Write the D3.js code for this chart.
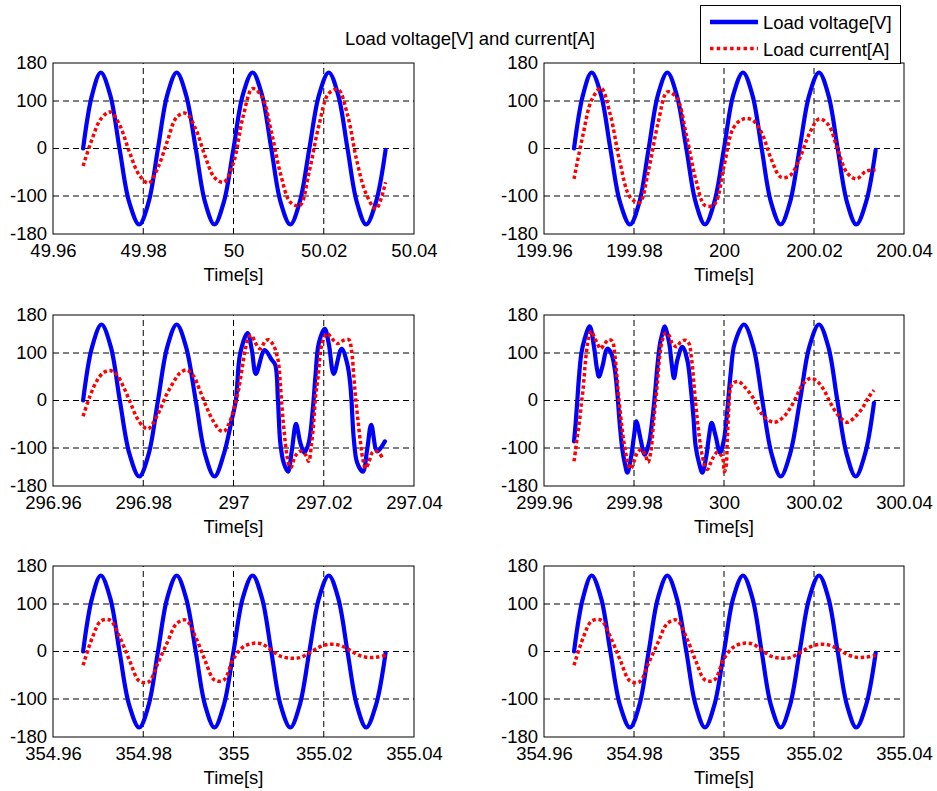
<!DOCTYPE html>
<html>
<head>
<meta charset="utf-8">
<script src="https://cdn.jsdelivr.net/npm/d3@7"></script>
<style>
  body { margin: 0; background: #fff; }
  text { font-family: "Liberation Sans", Arial, Helvetica, sans-serif; }
</style>
</head>
<body>
<svg id="fig" width="937" height="791"></svg>
<script>
// ---------------------------------------------------------------
// Measured load voltage [V] and load current [A] in six 80 ms windows.
// Sample instants are given in ms after the left limit of each window.
// ---------------------------------------------------------------

// Instants used for the steady-state windows (eighth-cycle samples)
const steadyMs = [6.67, 8.67, 10.59, 12.67, 14.74, 16.89, 19.11, 21.19, 23.26, 25.33, 27.41,
  29.48, 31.63, 33.70, 35.78, 37.85, 40.00, 42.07, 44.22, 46.30, 48.37, 50.44, 52.59, 54.67,
  56.81, 58.96, 61.11, 63.19, 65.26, 67.33, 69.41, 71.56, 73.70];

// Load voltage in the steady windows (t = 50 s, 200 s, 355 s)
const steadyVolt = [0, 113, 160, 113, 0, -113, -160, -113, 0, 113, 160, 113, 0, -113, -160, -113,
  0, 113, 160, 113, 0, -113, -160, -113, 0, 113, 160, 113, 0, -113, -160, -113, -3];

// Load current, window 49.96 - 50.04 s
const curr50 = [-37, 20, 62, 77, 50, -6, -56, -73, -40, 15, 66, 74, 41, -16, -61, -71,
  -30, 65, 126, 109, 36, -54, -113, -120, -47, 50, 116, 124, 71, -26, -96, -127, -71];

// Load current, window 199.96 - 200.04 s
const curr200 = [-64, 29, 102, 127, 71, -30, -102, -114, -44, 53, 119, 107, 29, -64, -120, -118,
  -37, 43, 62, 60, 33, -21, -60, -57, -21, 31, 62, 50, -2, -51, -64, -48, -45];

// Load current, window 354.96 - 355.04 s
const curr355 = [-29, 28, 64, 66, 31, -17, -62, -64, -24, 19, 59, 66, 30, -19, -60, -60,
  -15, 9, 17, 16, 3, -10, -14, -13, -3, 9, 15, 14, 6, -6, -12, -12, -8];

// Window 296.96 - 297.04 s: [ms, value]
const volt297 = [[6.67, 0], [8.67, 113], [10.74, 160], [12.81, 113], [14.81, 0], [16.96, -113],
  [19.11, -160], [21.19, -113], [23.26, 0], [25.33, 113], [27.41, 160], [29.48, 113], [31.63, 0],
  [33.70, -113], [35.78, -160], [37.85, -113], [39.63, -40], [40.52, 0], [41.48, 99], [43.11, 142],
  [44.07, 106], [44.96, 56], [46.89, 106], [48.52, 85], [49.26, 75], [49.85, 1], [50.37, -89],
  [51.11, -131], [52.07, -150], [52.96, -103], [53.85, -49], [54.81, -89], [55.70, -110],
  [56.67, -89], [57.56, -20], [58.15, 50], [58.89, 120], [60.22, 151], [61.11, 120], [62.22, 56],
  [63.93, 109], [65.19, 78], [65.93, 29], [66.67, -82], [67.41, -131], [68.67, -150],
  [69.63, -103], [70.52, -51], [71.85, -107], [73.56, -86]];

const curr297 = [[6.67, -33], [8.15, 8], [9.63, 40], [11.11, 58], [12.59, 63], [14.07, 55],
  [15.56, 30], [17.04, -2], [18.52, -35], [20.00, -55], [21.11, -60], [22.22, -47], [23.70, -20],
  [25.19, 13], [26.67, 38], [28.15, 58], [29.63, 64], [31.11, 52], [32.59, 20], [34.07, -15],
  [35.56, -44], [37.04, -63], [37.93, -65], [38.89, -51], [39.63, -33], [40.37, -6], [41.11, 22],
  [41.85, 64], [42.59, 106], [43.48, 135], [44.07, 137], [44.81, 122], [45.93, 109], [47.04, 125],
  [47.78, 128], [48.89, 116], [49.63, 95], [50.00, 78], [50.37, 36], [50.74, -13], [51.11, -54],
  [51.48, -89], [51.85, -117], [52.30, -136], [52.74, -141], [53.70, -117], [54.81, -107],
  [55.93, -114], [56.67, -128], [57.26, -94], [57.78, -45], [58.15, 4], [58.74, 50], [59.63, 120],
  [60.74, 141], [61.85, 130], [62.96, 120], [63.70, 122], [64.44, 127], [65.56, 128], [66.15, 106],
  [66.67, 50], [67.04, 8], [67.56, -40], [68.15, -89], [68.67, -124], [69.26, -143], [70.00, -130],
  [70.74, -110], [71.85, -107], [72.96, -120]];

// Window 299.96 - 300.04 s: [ms, value]
const volt300 = [[6.67, -86], [7.04, -47], [7.41, 1], [7.78, 50], [8.30, 99], [9.04, 130],
  [10.15, 156], [11.11, 113], [11.70, 71], [12.22, 50], [12.96, 71], [14.07, 109], [14.96, 99],
  [15.70, 68], [16.30, 15], [16.81, -47], [17.41, -103], [17.93, -131], [18.52, -152],
  [19.26, -124], [20.00, -75], [20.52, -44], [21.48, -82], [22.37, -114], [23.33, -89],
  [24.07, -40], [24.67, 15], [25.19, 71], [25.78, 120], [26.30, 141], [26.81, 156], [27.78, 123],
  [28.37, 78], [28.89, 47], [29.63, 85], [30.74, 113], [31.85, 85], [32.59, 29], [33.19, -33],
  [33.70, -96], [34.44, -131], [35.19, -152], [36.07, -117], [36.67, -75], [37.26, -47],
  [38.15, -75], [39.11, -110], [40.00, -82], [40.74, -20], [41.48, 57], [42.37, 120], [44.44, 160],
  [46.52, 113], [48.52, 0], [50.59, -113], [52.59, -160], [54.67, -113], [56.89, 0], [58.96, 113],
  [61.11, 160], [63.19, 113], [65.19, 0], [67.26, -113], [69.26, -160], [71.33, -113], [73.33, -5]];

const curr300 = [[6.67, -128], [7.04, -103], [7.41, -75], [7.93, -40], [8.30, -6], [8.67, 22],
  [9.04, 64], [9.48, 106], [10.00, 134], [10.52, 146], [11.11, 135], [11.85, 120], [12.59, 109],
  [13.48, 120], [14.44, 128], [15.19, 125], [15.70, 99], [16.15, 57], [16.52, 15], [17.04, -33],
  [17.56, -75], [18.15, -110], [18.67, -134], [19.26, -144], [20.00, -128], [20.74, -110],
  [21.63, -103], [22.59, -117], [23.11, -130], [23.70, -110], [24.22, -61], [24.67, -13],
  [25.19, 36], [25.70, 92], [26.30, 127], [27.04, 142], [27.78, 137], [28.52, 120], [29.48, 113],
  [30.37, 123], [31.48, 127], [32.22, 120], [32.74, 92], [33.19, 50], [33.56, 8], [34.07, -40],
  [34.59, -82], [35.19, -117], [35.78, -138], [36.30, -145], [37.04, -131], [37.78, -117],
  [38.52, -109], [39.26, -114], [39.70, -120], [40.07, -150], [40.44, -140], [40.74, -80],
  [41.04, -20], [41.41, 25], [41.93, 36], [43.19, 40], [44.81, 26], [46.30, 8], [47.78, -20],
  [49.26, -37], [51.11, -46], [52.96, -37], [54.44, -20], [55.93, 5], [57.41, 33], [59.26, 47],
  [60.74, 40], [62.22, 22], [63.70, -6], [65.56, -33], [67.41, -46], [69.26, -33], [70.74, -16],
  [72.22, 8], [73.33, 22]];

// Axis ticks and labels
const xTickMs = [0, 20, 40, 60, 80];
const ticks50  = ["49.96", "49.98", "50", "50.02", "50.04"];
const ticks200 = ["199.96", "199.98", "200", "200.02", "200.04"];
const ticks297 = ["296.96", "296.98", "297", "297.02", "297.04"];
const ticks300 = ["299.96", "299.98", "300", "300.02", "300.04"];
const ticks355 = ["354.96", "354.98", "355", "355.02", "355.04"];
const yTicks = [-180, -100, 0, 100, 180];
const yTickLabels = ["-180", "-100", "0", "100", "180"];

const titleText = "Load voltage[V] and current[A]";
const xLabel = "Time[s]";
const legendLabels = ["Load voltage[V]", "Load current[A]"];

// ---------------------------------------------------------------
const zipSteady = vals => d3.zip(steadyMs, vals);
const panels = [
  { ticks: ticks50,  volt: zipSteady(steadyVolt), curr: zipSteady(curr50) },
  { ticks: ticks200, volt: zipSteady(steadyVolt), curr: zipSteady(curr200) },
  { ticks: ticks297, volt: volt297, curr: curr297 },
  { ticks: ticks300, volt: volt300, curr: curr300 },
  { ticks: ticks355, volt: zipSteady(steadyVolt), curr: zipSteady(curr355) },
  { ticks: ticks355, volt: zipSteady(steadyVolt), curr: zipSteady(curr355) }
];

const FS = 18.5;
const BLUE = "#0000ff", RED = "#ff0000";
const colLeft = [53, 544], colRight = [414, 904];
const rowTop = [63, 315, 566], rowBottom = [234, 486, 737];

const svg = d3.select("#fig");
svg.append("rect").attr("width", 937).attr("height", 791).attr("fill", "#fff");

panels.forEach((p, i) => {
  const col = i % 2, row = Math.floor(i / 2);
  const x = d3.scaleLinear().domain([0, 80]).range([colLeft[col], colRight[col]]);
  const y = d3.scaleLinear().domain([-180, 180]).range([rowBottom[row], rowTop[row]]);
  const g = svg.append("g");

  // dashed grid
  g.append("g").selectAll("line").data(xTickMs.slice(1, -1)).join("line")
    .attr("x1", d => x(d)).attr("x2", d => x(d))
    .attr("y1", y(-180)).attr("y2", y(180))
    .attr("stroke", "#000").attr("stroke-width", 1).attr("stroke-dasharray", "6,4");
  g.append("g").selectAll("line").data(yTicks.slice(1, -1)).join("line")
    .attr("y1", d => y(d)).attr("y2", d => y(d))
    .attr("x1", x(0)).attr("x2", x(80))
    .attr("stroke", "#000").attr("stroke-width", 1).attr("stroke-dasharray", "6,4");

  // axes (labels only; the frame is drawn separately)
  const xAxis = d3.axisBottom(x).tickValues(xTickMs).tickSize(0).tickPadding(10)
    .tickFormat((d, k) => p.ticks[k]);
  g.append("g").attr("transform", `translate(0,${y(-180)})`).call(xAxis)
    .call(s => s.select(".domain").remove())
    .attr("font-size", FS).attr("font-family", null)
    .selectAll("text").attr("fill", "#000");

  const yAxis = d3.axisLeft(y).tickValues(yTicks).tickSize(0).tickPadding(6)
    .tickFormat((d, k) => yTickLabels[k]);
  g.append("g").attr("transform", `translate(${x(0)},0)`).call(yAxis)
    .call(s => s.select(".domain").remove())
    .attr("font-size", FS).attr("font-family", null)
    .selectAll("text").attr("fill", "#000").attr("dy", "0.28em");

  // x-axis title
  g.append("text").attr("x", (x(0) + x(80)) / 2).attr("y", y(-180) + 47)
    .attr("text-anchor", "middle").attr("font-size", FS).text(xLabel);

  const line = d3.line().x(d => x(d[0])).y(d => y(d[1]))
    .curve(d3.curveCatmullRom.alpha(0.5));

  g.append("path").datum(p.volt).attr("d", line)
    .attr("fill", "none").attr("stroke", BLUE).attr("stroke-width", 4.2)
    .attr("stroke-linejoin", "round").attr("stroke-linecap", "round");
  g.append("path").datum(p.curr).attr("d", line)
    .attr("fill", "none").attr("stroke", RED).attr("stroke-width", 3.5)
    .attr("stroke-dasharray", "3.5,2.6");

  // frame
  g.append("rect").attr("x", x(0)).attr("y", y(180))
    .attr("width", x(80) - x(0)).attr("height", y(-180) - y(180))
    .attr("fill", "none").attr("stroke", "#000").attr("stroke-width", 1);
});

// figure title
svg.append("text").attr("x", 470).attr("y", 45).attr("text-anchor", "middle")
  .attr("font-size", FS).text(titleText);

// legend
const lg = svg.append("g");
lg.append("rect").attr("x", 700.5).attr("y", 5.5).attr("width", 200).attr("height", 58)
  .attr("fill", "#fff").attr("stroke", "#000").attr("stroke-width", 1);
const legendRows = [
  { label: legendLabels[0], color: BLUE, width: 4.5, dash: null, y: 22 },
  { label: legendLabels[1], color: RED, width: 3.5, dash: "3.5,3.2", y: 48.5 }
];
legendRows.forEach(r => {
  lg.append("line").attr("x1", 710).attr("x2", 758).attr("y1", r.y).attr("y2", r.y)
    .attr("stroke", r.color).attr("stroke-width", r.width)
    .attr("stroke-dasharray", r.dash);
  lg.append("text").attr("x", 763).attr("y", r.y + 7).attr("font-size", FS).text(r.label);
});
</script>
</body>
</html>
